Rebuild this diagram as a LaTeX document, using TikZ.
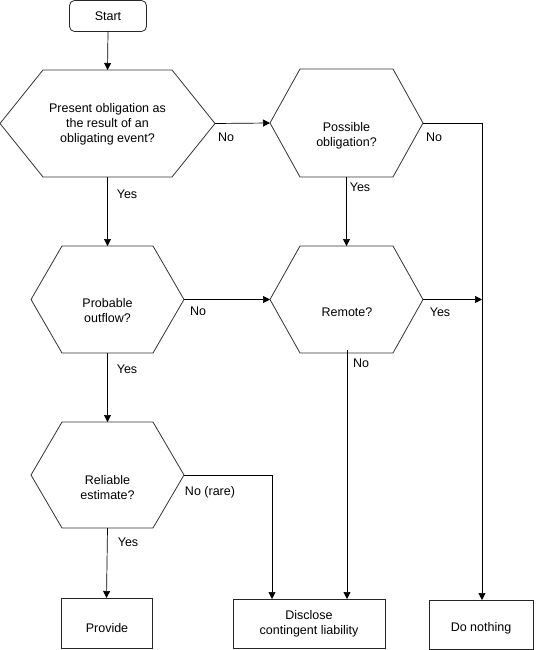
\documentclass[tikz,border=0pt]{standalone}
\usepackage{fontspec}
\setmainfont{Liberation Sans}
\usetikzlibrary{arrows.meta}
\tikzset{
  hexbox/.style={inner sep=0pt, outer sep=0pt, draw=none},
  hexline/.style={draw=black!80, line width=0.8pt, line join=miter},
  boxnode/.style={draw=black!85, line width=0.8pt, inner sep=0pt, outer sep=0pt},
  txt/.style={align=center, inner sep=0pt, font=\fontsize{12.5}{15}\selectfont},
  lbl/.style={inner sep=0pt, font=\fontsize{12.5}{15}\selectfont},
  conn/.style={draw=black, line width=0.7pt},
  arr/.style={conn, -{Triangle[length=7pt,width=7pt]}},
}
\newcommand\hexdraw[2]{\draw[hexline] (#1.west) -- ([xshift=#2pt]#1.north west) -- ([xshift=-#2pt]#1.north east) -- (#1.east) -- ([xshift=-#2pt]#1.south east) -- ([xshift=#2pt]#1.south west) -- cycle;}
\begin{document}
\begin{tikzpicture}[x=1pt,y=-1pt]
\useasboundingbox (0,0) rectangle (535,650);
% start
\node[boxnode, rounded corners=5pt, minimum width=77pt, minimum height=31pt] (st) at (108,16) {};
\node[txt] (stt) at (108,16) {Start};
% hexagons
\node[hexbox, minimum width=215pt, minimum height=107pt] (h1) at (107.5,123.5) {};
\hexdraw{h1}{43}
\node[txt] (h1t) at (107.5,124) {Present obligation as\\the result of an\\obligating event?};
\node[hexbox, minimum width=153pt, minimum height=108pt] (h2) at (346.5,123) {};
\hexdraw{h2}{30}
\node[txt] (h2t) at (346.5,135.5) {Possible\\obligation?};
\node[hexbox, minimum width=153pt, minimum height=107pt] (h3) at (107.5,299.5) {};
\hexdraw{h3}{31}
\node[txt] (h3t) at (107.5,311) {Probable\\outflow?};
\node[hexbox, minimum width=153pt, minimum height=107pt] (h4) at (346.5,299.5) {};
\hexdraw{h4}{30}
\node[txt] (h4t) at (347,312) {Remote?};
\node[hexbox, minimum width=153pt, minimum height=106pt] (h5) at (107.5,475) {};
\hexdraw{h5}{31}
\node[txt] (h5t) at (107.5,487.5) {Reliable\\estimate?};
% end boxes
\node[boxnode, minimum width=91pt, minimum height=50pt] (pv) at (106.5,623) {};
\node[txt] (pvt) at (107,628) {Provide};
\node[boxnode, minimum width=152pt, minimum height=49pt] (dc) at (309,623.5) {};
\node[txt] (dct) at (309,624) {Disclose\\contingent liability};
\node[boxnode, minimum width=104pt, minimum height=49pt] (dn) at (481,624.5) {};
\node[txt] (dnt) at (481,628) {Do nothing};
% connectors
\draw[arr] (st.south) -- (h1.north);
\draw[arr] (h1.east) -- (h2.west);
\coordinate (c1) at (482,123);
\draw[arr] (h2.east) -- (c1) -- (c1 |- dn.north);
\draw[arr] (h2.south) -- (h4.north);
\draw[arr] (h1.south) -- (h3.north);
\draw[arr] (h3.east) -- (h4.west);
\coordinate (c2) at (482,299.5);
\draw[arr] (h4.east) -- (c2);
\coordinate (c4) at (347,350);
\draw[arr] (c4) -- (c4 |- dc.north);
\draw[arr] (h3.south) -- (h5.north);
\coordinate (c3) at (272,475);
\draw[arr] (h5.east) -- (c3) -- (c3 |- dc.north);
\draw[arr] (h5.south) -- (pv.north);
% labels
\node[lbl] (l1) at (226,137) {No};
\node[lbl] (l2) at (127,194) {Yes};
\node[lbl] (l3) at (434,137) {No};
\node[lbl] (l4) at (360,187) {Yes};
\node[lbl] (l5) at (198,311) {No};
\node[lbl] (l6) at (127,369) {Yes};
\node[lbl] (l7) at (440,312) {Yes};
\node[lbl] (l8) at (361,363) {No};
\node[lbl] (l9) at (210,492) {No (rare)};
\node[lbl] (l10) at (128,542) {Yes};
\end{tikzpicture}
\end{document}
